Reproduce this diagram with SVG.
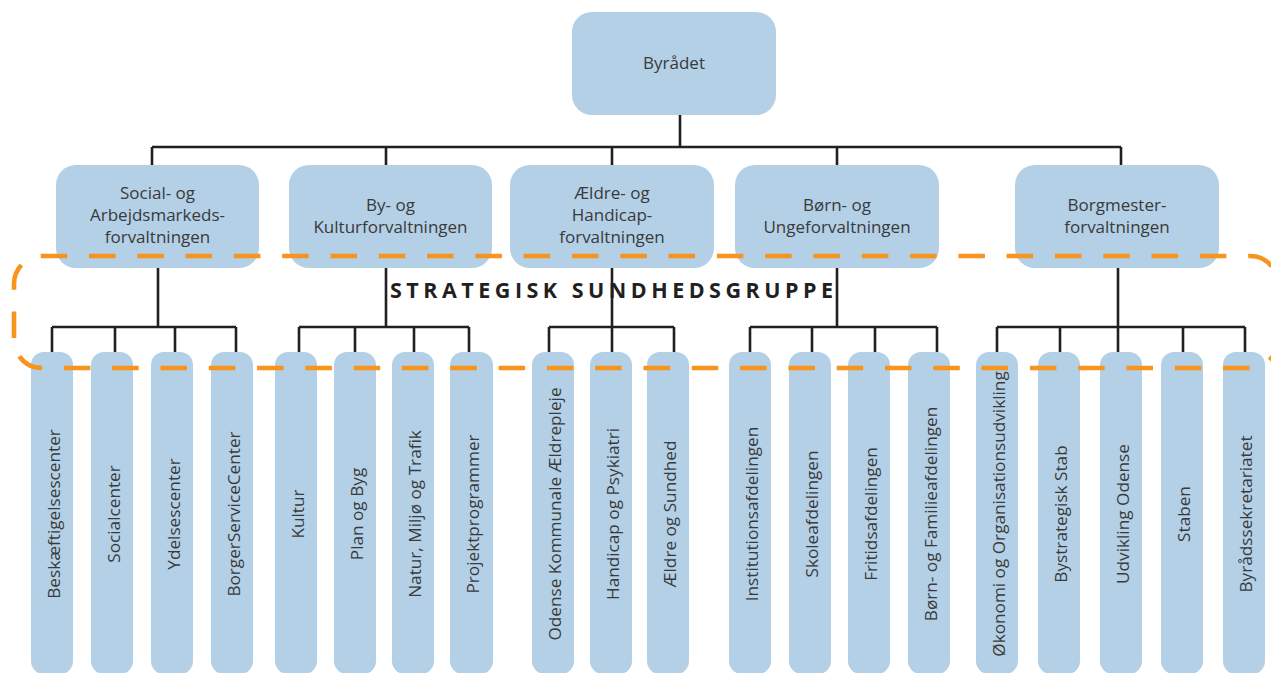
<svg xmlns="http://www.w3.org/2000/svg" width="1271" height="673" viewBox="0 0 1271 673">
<style>
.box{fill:#b3d0e7}
.col{fill:#b3d0e7}
.t{font-family:"Open Sans","Liberation Sans",sans-serif;font-size:17px;fill:#3a3a3a;text-anchor:middle}
.v{font-family:"Open Sans","Liberation Sans",sans-serif;font-size:17.2px;fill:#3a3a3a;text-anchor:middle}
.ln{stroke:#231f20;stroke-width:2.6;fill:none}
.dash{stroke:#f7941d;stroke-width:4.6;fill:none;stroke-dasharray:26.5 21.8}
.sg{font-family:"Open Sans","Liberation Sans",sans-serif;font-size:21.5px;font-weight:bold;fill:#231f20;letter-spacing:4.5px}
</style>
<rect width="1271" height="673" fill="#ffffff"/>
<g id="connectors">
<path class="ln" d="M680 115V147M152 147H1121M152 147V165M386 147V165M612 147V165M837 147V165M1121 147V165"/>
<path class="ln" d="M158 268V327M52 327H236M52 327V352M115 327V352M175 327V352M236 327V352"/>
<path class="ln" d="M386 268V327M299 327H469M299 327V352M355 327V352M414 327V352M469 327V352"/>
<path class="ln" d="M612 268V352M549 327H674M549 327V352M674 327V352"/>
<path class="ln" d="M837 268V327M750 327H937M750 327V352M812 327V352M875 327V352M937 327V352"/>
<path class="ln" d="M1118 268V352M997 327H1245M997 327V352M1060 327V352M1183 327V352M1245 327V352"/>
</g>
<g id="n-byraadet"><rect class="box" x="572" y="12" width="204" height="103" rx="20"/><text class="t" x="674" y="69">Byrådet</text></g>
<g id="n-social"><rect class="box" x="56" y="165" width="203" height="103" rx="20"/><text class="t" x="157.5" y="199">Social- og</text><text class="t" x="157.5" y="221">Arbejdsmarkeds-</text><text class="t" x="157.5" y="243">forvaltningen</text></g>
<g id="n-by"><rect class="box" x="289" y="165" width="203" height="103" rx="20"/><text class="t" x="390.5" y="211">By- og</text><text class="t" x="390.5" y="233">Kulturforvaltningen</text></g>
<g id="n-aeldre"><rect class="box" x="510" y="165" width="204" height="103" rx="20"/><text class="t" x="612" y="199">Ældre- og</text><text class="t" x="612" y="221">Handicap-</text><text class="t" x="612" y="243">forvaltningen</text></g>
<g id="n-boern"><rect class="box" x="735" y="165" width="204" height="103" rx="20"/><text class="t" x="837" y="211">Børn- og</text><text class="t" x="837" y="233">Ungeforvaltningen</text></g>
<g id="n-borgmester"><rect class="box" x="1015" y="165" width="204" height="103" rx="20"/><text class="t" x="1117" y="211">Borgmester-</text><text class="t" x="1117" y="233">forvaltningen</text></g>
<g id="columns">
<g id="c1"><rect class="col" x="31" y="352" width="42" height="322" rx="13"/><text class="v" transform="translate(59.5,514) rotate(-90)">Beskæftigelsescenter</text></g>
<g id="c2"><rect class="col" x="91" y="352" width="42" height="322" rx="13"/><text class="v" transform="translate(119.5,514) rotate(-90)">Socialcenter</text></g>
<g id="c3"><rect class="col" x="151" y="352" width="42" height="322" rx="13"/><text class="v" transform="translate(179.5,514) rotate(-90)">Ydelsescenter</text></g>
<g id="c4"><rect class="col" x="211" y="352" width="42" height="322" rx="13"/><text class="v" transform="translate(239.5,514) rotate(-90)">BorgerServiceCenter</text></g>
<g id="c5"><rect class="col" x="275" y="352" width="42" height="322" rx="13"/><text class="v" transform="translate(303.5,514) rotate(-90)">Kultur</text></g>
<g id="c6"><rect class="col" x="334" y="352" width="42" height="322" rx="13"/><text class="v" transform="translate(362.5,514) rotate(-90)">Plan og Byg</text></g>
<g id="c7"><rect class="col" x="392" y="352" width="42" height="322" rx="13"/><text class="v" transform="translate(420.5,514) rotate(-90)">Natur, Miljø og Trafik</text></g>
<g id="c8"><rect class="col" x="450" y="352" width="43" height="322" rx="13"/><text class="v" transform="translate(479,514) rotate(-90)">Projektprogrammer</text></g>
<g id="c9"><rect class="col" x="532" y="352" width="42" height="322" rx="13"/><text class="v" transform="translate(560.5,514) rotate(-90)">Odense Kommunale Ældrepleje</text></g>
<g id="c10"><rect class="col" x="590" y="352" width="42" height="322" rx="13"/><text class="v" transform="translate(618.5,514) rotate(-90)">Handicap og Psykiatri</text></g>
<g id="c11"><rect class="col" x="647" y="352" width="42" height="322" rx="13"/><text class="v" transform="translate(675.5,514) rotate(-90)">Ældre og Sundhed</text></g>
<g id="c12"><rect class="col" x="729" y="352" width="42" height="322" rx="13"/><text class="v" transform="translate(757.5,514) rotate(-90)">Institutionsafdelingen</text></g>
<g id="c13"><rect class="col" x="789" y="352" width="42" height="322" rx="13"/><text class="v" transform="translate(817.5,514) rotate(-90)">Skoleafdelingen</text></g>
<g id="c14"><rect class="col" x="848" y="352" width="42" height="322" rx="13"/><text class="v" transform="translate(876.5,514) rotate(-90)">Fritidsafdelingen</text></g>
<g id="c15"><rect class="col" x="908" y="352" width="42" height="322" rx="13"/><text class="v" transform="translate(936.5,514) rotate(-90)">Børn- og Familieafdelingen</text></g>
<g id="c16"><rect class="col" x="976" y="352" width="42" height="322" rx="13"/><text class="v" transform="translate(1004.5,514) rotate(-90)">Økonomi og Organisationsudvikling</text></g>
<g id="c17"><rect class="col" x="1038" y="352" width="42" height="322" rx="13"/><text class="v" transform="translate(1066.5,514) rotate(-90)">Bystrategisk Stab</text></g>
<g id="c18"><rect class="col" x="1100" y="352" width="42" height="322" rx="13"/><text class="v" transform="translate(1128.5,514) rotate(-90)">Udvikling Odense</text></g>
<g id="c19"><rect class="col" x="1161" y="352" width="42" height="322" rx="13"/><text class="v" transform="translate(1189.5,514) rotate(-90)">Staben</text></g>
<g id="c20"><rect class="col" x="1223" y="352" width="42" height="322" rx="13"/><text class="v" transform="translate(1251.5,514) rotate(-90)">Byrådssekretariatet</text></g>
</g>
<g id="strategisk-sundhedsgruppe">
<path class="dash" stroke-dashoffset="46.3" d="M14 340V284A28 28 0 0 1 42 256H1250A28 28 0 0 1 1278 284V312"/>
<path class="dash" stroke-dashoffset="30.8" d="M14 340A28 28 0 0 0 42 368H1250A28 28 0 0 0 1278 340V312"/>
<text class="sg" x="390" y="298">STRATEGISK SUNDHEDSGRUPPE</text>
</g>
</svg>
